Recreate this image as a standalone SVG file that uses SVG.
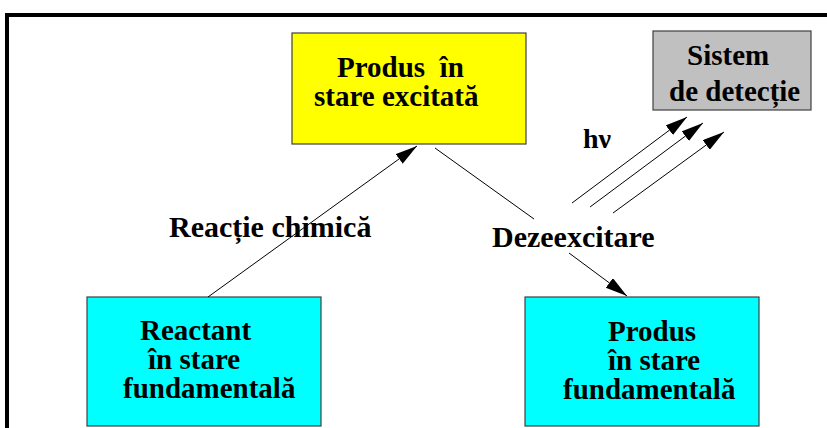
<svg xmlns="http://www.w3.org/2000/svg" width="827" height="428" viewBox="0 0 827 428">
<style>
.t{font-family:"Liberation Serif","Times New Roman",serif;font-weight:bold;font-size:29px;fill:#000}
.box{stroke:#404040;stroke-width:1.2}
.ln{stroke:#000;stroke-width:1;fill:none}
</style>
<defs>
<marker id="ah" markerUnits="userSpaceOnUse" markerWidth="24" markerHeight="14" refX="22" refY="6" orient="auto">
<path d="M0,0 L22,6 L0,12 Z" fill="#000"/>
</marker>
</defs>
<rect width="827" height="428" fill="#fff"/>
<path d="M7,428 V15 H827" fill="none" stroke="#000" stroke-width="4"/>
<g id="excited">
<rect class="box" x="292" y="33" width="234" height="111" fill="#ffff00"/>
<text class="t" x="337" y="77" xml:space="preserve">Produs  în</text>
<text class="t" x="314" y="106">stare excitată</text>
</g>
<g id="detector">
<rect class="box" x="653" y="31" width="158" height="79" fill="#c0c0c0"/>
<text class="t" x="687" y="65">Sistem</text>
<text class="t" x="669" y="101">de detecție</text>
</g>
<g id="reactant">
<rect class="box" x="87" y="297" width="234" height="129" fill="#00ffff"/>
<text class="t" x="140" y="340">Reactant</text>
<text class="t" x="148" y="369">în stare</text>
<text class="t" x="123" y="398">fundamentală</text>
</g>
<g id="product">
<rect class="box" x="525" y="297" width="234" height="129" fill="#00ffff"/>
<text class="t" x="608" y="341">Produs</text>
<text class="t" x="608" y="370">în stare</text>
<text class="t" x="563" y="399">fundamentală</text>
</g>
<g id="labels">
<text class="t" x="169" y="237" style="font-size:30px">Reacție chimică</text>
<text class="t" x="492" y="247" style="font-size:30px">Dezeexcitare</text>
<text class="t" x="583" y="148" style="font-size:28px">hν</text>
</g>
<g id="connectors">
<line class="ln" x1="208" y1="297" x2="417" y2="146" marker-end="url(#ah)"/>
<line class="ln" x1="435" y1="148" x2="534" y2="219"/>
<line class="ln" x1="569" y1="253" x2="627" y2="296" stroke-width="1.5" marker-end="url(#ah)"/>
<line class="ln" x1="572" y1="203" x2="687" y2="117" marker-end="url(#ah)"/>
<line class="ln" x1="590" y1="207" x2="703" y2="123" marker-end="url(#ah)"/>
<line class="ln" x1="613" y1="213" x2="724" y2="132" marker-end="url(#ah)"/>
</g>
</svg>
